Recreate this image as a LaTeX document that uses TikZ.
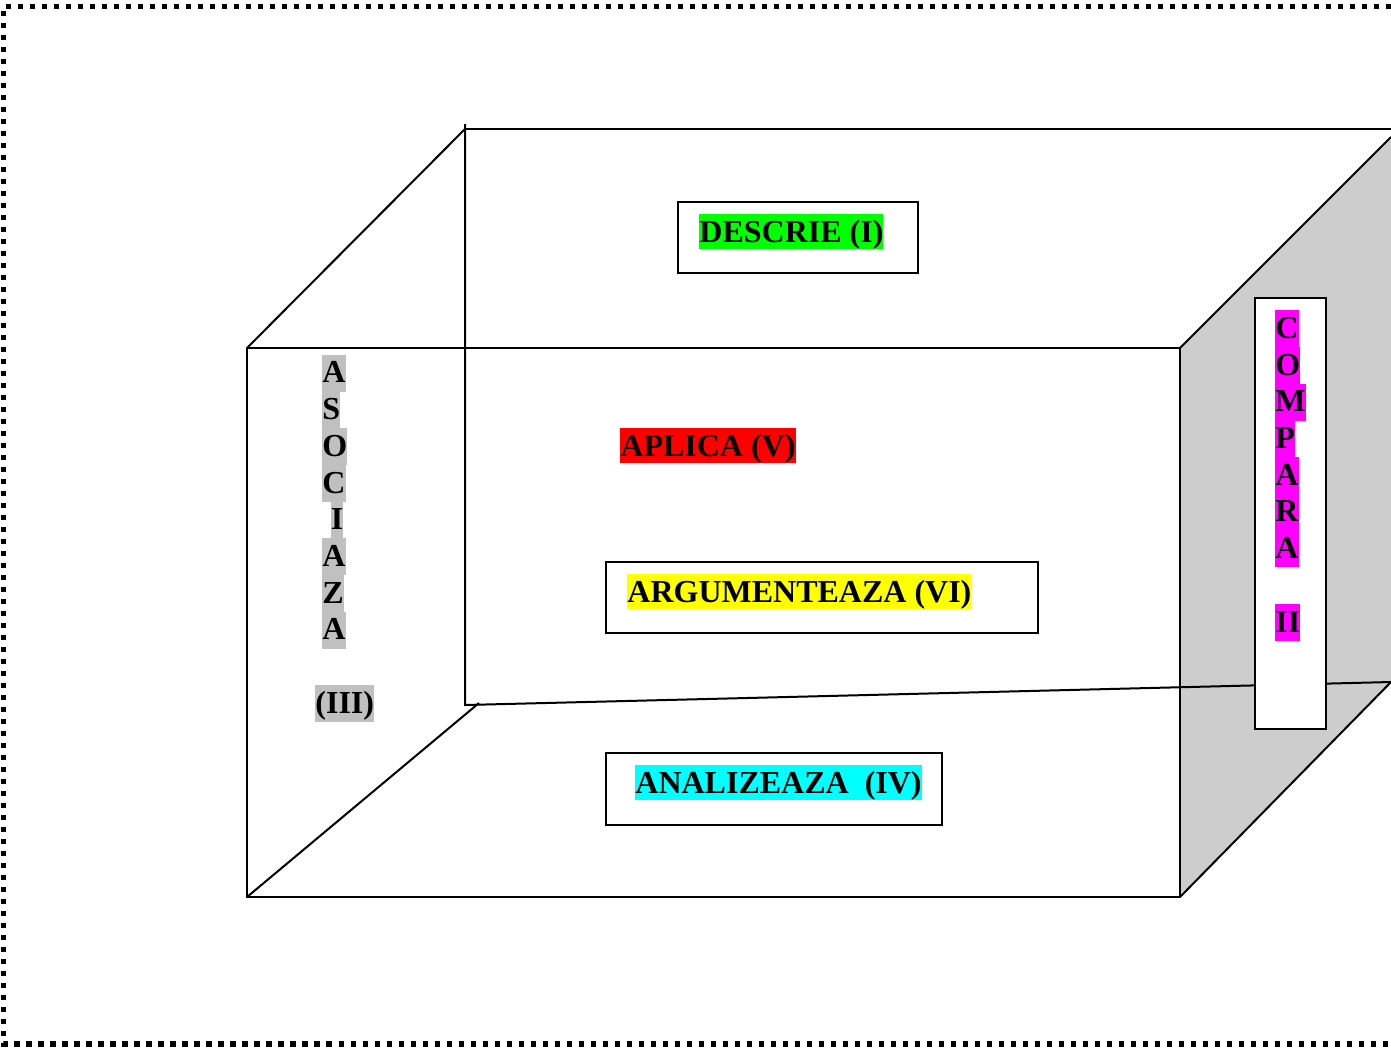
\documentclass[tikz,border=0pt]{standalone}
\usepackage{fontspec}
\setmainfont{Liberation Serif}

\definecolor{hlgreen}{HTML}{00FF00}
\definecolor{hlred}{HTML}{FF0000}
\definecolor{hlyellow}{HTML}{FFFF00}
\definecolor{hlcyan}{HTML}{00FFFF}
\definecolor{hlmagenta}{HTML}{FF00FF}
\definecolor{hlgray}{HTML}{C0C0C0}
\definecolor{sidegray}{HTML}{CDCDCD}

\begin{document}
\begin{tikzpicture}[x=0.5pt, y=-0.5pt]
  \newcommand\letterpitch{36.7}

  \tikzset{frame/.style={line width=2.6pt, dash pattern=on 2.6pt off 3.4pt}}
  \tikzset{edge/.style={line width=1pt}}
  \tikzset{lblbox/.style={draw, line width=1pt, inner sep=0pt}}
  \tikzset{hl/.style={anchor=north west, inner sep=0pt, text height=14pt, text depth=3.5pt, font=\fontsize{16pt}{18pt}\selectfont\bfseries}}
  \tikzset{stackletter/.style={hl, text depth=4.35pt}}

  \useasboundingbox (0, 0) rectangle (1391, 1051);

  % dotted frame (open on the right)
  \draw[frame] (1391, 6.5) -- (3.5, 6.5) -- (3.5, 1044) -- (1391, 1044);

  % cube corners
  \coordinate (ftl) at (247, 348);
  \coordinate (ftr) at (1180, 348);
  \coordinate (fbl) at (247, 897);
  \coordinate (fbr) at (1180, 897);
  \coordinate (btl) at (465, 129);
  \coordinate (btv) at (465, 124);
  \coordinate (btr) at (1391, 129);
  \coordinate (bbl) at (465, 705);
  \coordinate (bbd) at (479, 703);
  \coordinate (rtt) at (1391, 137);
  \coordinate (rtb) at (1391, 682);

  % right face
  \fill[sidegray] (ftr) -- (rtt) -- (rtb) -- (fbr) -- cycle;

  % back face
  \draw[edge] (btv) -- (bbl) -- (rtb);
  \draw[edge] (btl) -- (btr);

  % front face and depth edges
  \draw[edge] (ftl) rectangle (fbr);
  \draw[edge] (ftl) -- (btl);
  \draw[edge] (fbl) -- (bbd);
  \draw[edge] (ftr) -- (rtt);
  \draw[edge] (fbr) -- (rtb);

  % boxes
  \node[lblbox, minimum width=120pt, minimum height=35.5pt] at (798, 237.5) (descbox) {};
  \node[lblbox, minimum width=216pt, minimum height=35.5pt] at (822, 597.5) (argbox) {};
  \node[lblbox, minimum width=168pt, minimum height=36pt] at (774, 789) (analbox) {};
  \node[lblbox, fill=white, minimum width=35.5pt, minimum height=215.5pt] at (1290.5, 513.5) (compbox) {};

  % labels
  \node[hl, fill=hlgreen] at (699, 214) (desc) {DESCRIE (I)};
  \node[hl, fill=hlred] at (620, 428) (apl) {APLICA (V)};
  \node[hl, fill=hlyellow] at (627, 574) (arg) {ARGUMENTEAZA (VI)};
  \node[hl, fill=hlcyan] at (635, 765) (anal) {ANALIZEAZA\ \ (IV)};

  % left face, vertical
  \foreach \ch/\dx [count=\i from 0] in {A/0, S/0, O/0, C/0, I/8.5, A/0, Z/0, A/0}{
    \node[stackletter, fill=hlgray] at (322+\dx, 354.5+\letterpitch*\i) (asoc\i) {\ch};
  }
  \node[stackletter, fill=hlgray] at (315, 354.5+\letterpitch*9) (asocnum) {(III)};

  % right face, vertical
  \foreach \ch [count=\i from 0] in {C, O, M, P, A, R, A}{
    \node[stackletter, fill=hlmagenta] at (1275, 310+\letterpitch*\i) (comp\i) {\ch};
  }
  \node[stackletter, fill=hlmagenta] at (1275, 310+\letterpitch*8) (compnum) {II};
\end{tikzpicture}
\end{document}
